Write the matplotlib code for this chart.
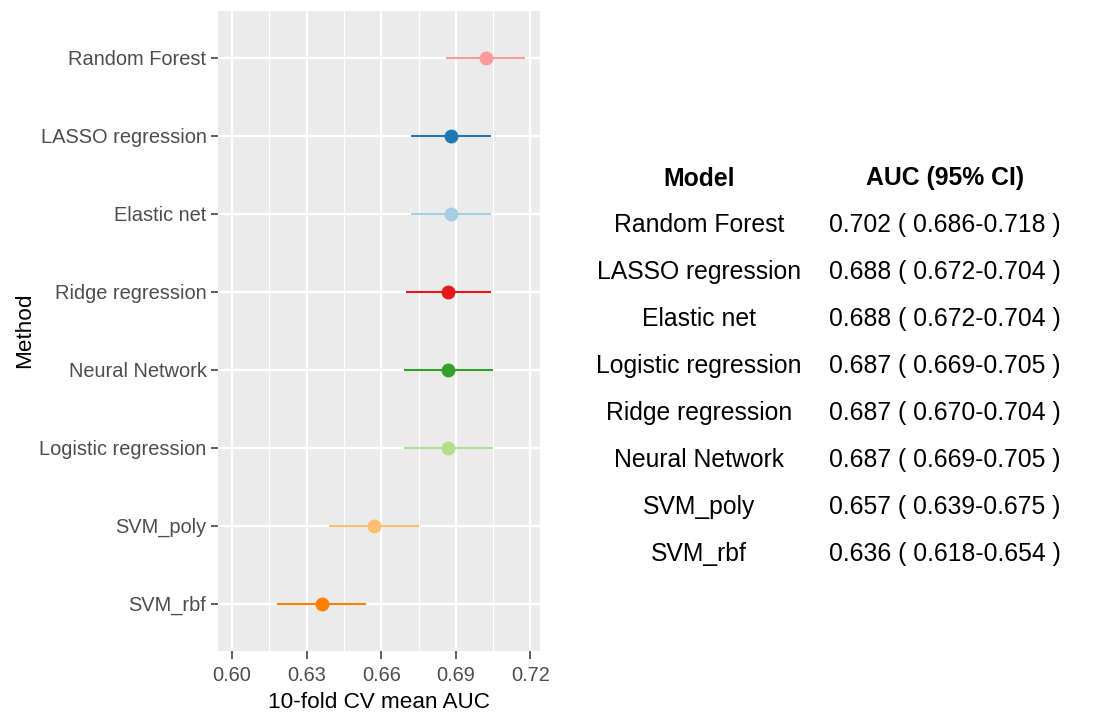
import matplotlib
matplotlib.use("Agg")
import matplotlib.pyplot as plt

plt.rcParams['font.family'] = ['Liberation Sans', 'DejaVu Sans']

# Plot data (top to bottom as drawn)
methods = ["Random Forest", "LASSO regression", "Elastic net", "Ridge regression",
           "Neural Network", "Logistic regression", "SVM_poly", "SVM_rbf"]
auc = [0.702, 0.688, 0.688, 0.687, 0.687, 0.687, 0.657, 0.636]
lower = [0.686, 0.672, 0.672, 0.670, 0.669, 0.669, 0.639, 0.618]
upper = [0.718, 0.704, 0.704, 0.704, 0.705, 0.705, 0.675, 0.654]
colors = ["#FB9A99", "#1F78B4", "#A6CEE3", "#E31A1C",
          "#33A02C", "#B2DF8A", "#FDBF6F", "#FF7F00"]

# Table data
table_header = ["Model", "AUC (95% CI)"]
table_models = ["Random Forest", "LASSO regression", "Elastic net", "Logistic regression",
                "Ridge regression", "Neural Network", "SVM_poly", "SVM_rbf"]
table_auc = ["0.702 ( 0.686-0.718 )", "0.688 ( 0.672-0.704 )", "0.688 ( 0.672-0.704 )",
             "0.687 ( 0.669-0.705 )", "0.687 ( 0.670-0.704 )", "0.687 ( 0.669-0.705 )",
             "0.657 ( 0.639-0.675 )", "0.636 ( 0.618-0.654 )"]

xticks = [0.60, 0.63, 0.66, 0.69, 0.72]
xminor = [0.615, 0.645, 0.675, 0.705]

W, H = 1106, 727
fig = plt.figure(figsize=(W / 100, H / 100), dpi=100)
fig.patch.set_facecolor("white")

l, r, t, b = 217.5, 540, 11, 650.5
ax = fig.add_axes([l / W, 1 - b / H, (r - l) / W, (b - t) / H])
ax.set_facecolor("#EBEBEB")
for s in ax.spines.values():
    s.set_visible(False)

n = len(methods)
ypos = list(range(n, 0, -1))

ax.set_xlim(0.5941, 0.7239)
ax.set_ylim(0.4, n + 0.6)

for xm in xminor:
    ax.axvline(xm, color="white", lw=0.8, zorder=0)
for xv in xticks:
    ax.axvline(xv, color="white", lw=1.6, zorder=0)
for yv in ypos:
    ax.axhline(yv, color="white", lw=1.6, zorder=0)

for y, m, lo, hi, c in zip(ypos, auc, lower, upper, colors):
    ax.plot([lo, hi], [y, y], color=c, lw=1.5, solid_capstyle="butt", zorder=2)
    ax.plot([m], [y], marker="o", ms=9, color=c, mec=c, zorder=3)

ax.set_xticks(xticks)
ax.set_xticklabels([f"{v:.2f}" for v in xticks])
ax.set_yticks(ypos)
ax.set_yticklabels(methods)
ax.tick_params(axis="both", colors="#333333", length=5.5, width=1.1,
               labelcolor="#4D4D4D", labelsize=14.4)
ax.tick_params(axis="x", pad=6)
ax.tick_params(axis="y", pad=3, length=5)
ax.set_xlabel("10-fold CV mean AUC", fontsize=16.2, color="black", labelpad=5)
ax.set_ylabel("Method", fontsize=16.2, color="black", labelpad=3)

# Table
col1_x, col2_x = 699, 945
fig.text(col1_x / W, 1 - 178.5 / H, table_header[0], ha="center", va="center",
         fontsize=17.8, fontweight="bold", color="black")
fig.text(col2_x / W, 1 - 178.5 / H, table_header[1], ha="center", va="center",
         fontsize=17.8, fontweight="bold", color="black")
row_y0, row_dy = 225, 47
for i, (mname, a) in enumerate(zip(table_models, table_auc)):
    yy = 1 - (row_y0 + i * row_dy) / H
    fig.text(col1_x / W, yy, mname, ha="center", va="center", fontsize=17.8, color="black")
    fig.text(col2_x / W, yy, a, ha="center", va="center", fontsize=17.8, color="black")

fig.savefig("out.png", dpi=100, facecolor="white")
